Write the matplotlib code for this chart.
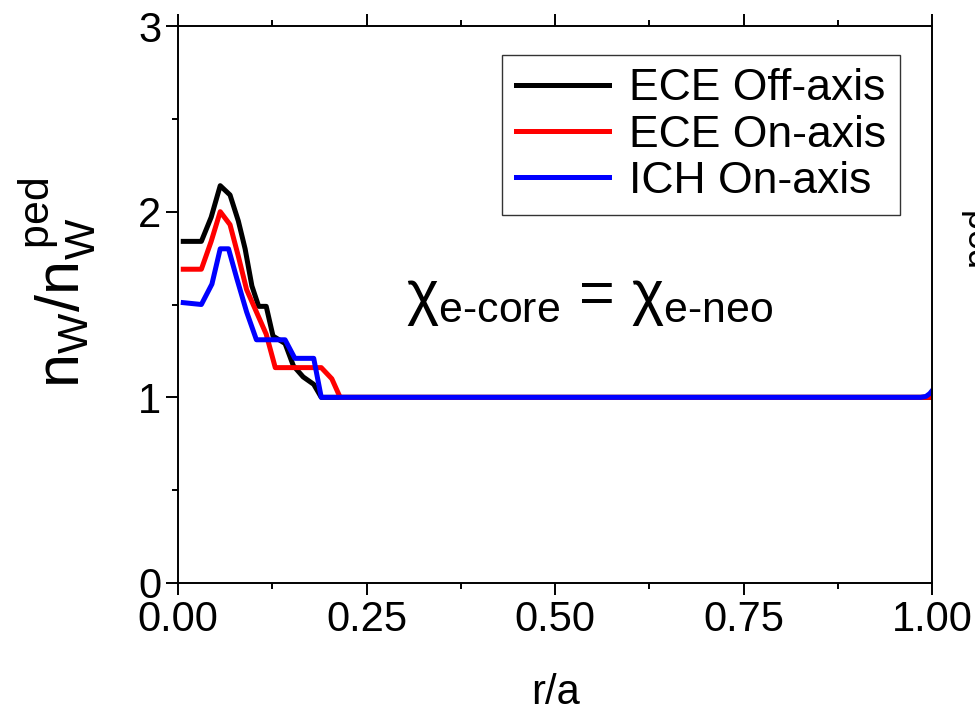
import matplotlib
matplotlib.use('Agg')
import matplotlib.pyplot as plt
from matplotlib.ticker import MultipleLocator

plt.rcParams['font.family'] = ['Liberation Sans', 'DejaVu Sans']
plt.rcParams['mathtext.fontset'] = 'custom'
plt.rcParams['mathtext.rm'] = 'Liberation Sans'
plt.rcParams['mathtext.it'] = 'Liberation Sans:italic'
plt.rcParams['mathtext.bf'] = 'Liberation Sans:bold'

# ECE off-axis
r_off = [0.007, 0.031, 0.044, 0.056, 0.069, 0.080, 0.089, 0.098, 0.107, 0.117,
         0.126, 0.142, 0.153, 0.166, 0.180, 0.190, 1.0]
n_off = [1.84, 1.84, 1.97, 2.14, 2.09, 1.95, 1.80, 1.60, 1.49, 1.49,
         1.33, 1.29, 1.17, 1.11, 1.07, 1.0, 1.0]

# ECE on-axis
r_on = [0.007, 0.031, 0.044, 0.056, 0.069, 0.080, 0.091, 0.104, 0.117, 0.129,
        0.190, 0.204, 0.215, 1.0]
n_on = [1.69, 1.69, 1.84, 2.00, 1.93, 1.76, 1.58, 1.46, 1.34, 1.16,
        1.16, 1.10, 1.0, 1.0]

# ICH on-axis
r_ich = [0.007, 0.031, 0.045, 0.056, 0.067, 0.078, 0.091, 0.104, 0.142, 0.155,
         0.180, 0.190, 0.985, 0.992, 0.997, 1.0]
n_ich = [1.51, 1.50, 1.61, 1.80, 1.80, 1.64, 1.46, 1.31, 1.31, 1.21,
         1.21, 1.0, 1.0, 1.005, 1.02, 1.035]

fig = plt.figure(figsize=(9.75, 7.12), dpi=100)
ax = fig.add_axes([178/975, 1 - 583/712, (932 - 178)/975, (583 - 26)/712])

ax.plot(r_off, n_off, color='black', lw=3.6, label='ECE Off-axis')
ax.plot(r_on, n_on, color='red', lw=3.6, label='ECE On-axis')
ax.plot(r_ich, n_ich, color='blue', lw=3.6, label='ICH On-axis')

ax.set_xlim(0, 1)
ax.set_ylim(0, 3)
ax.set_xticks([0, 0.25, 0.5, 0.75, 1.0])
ax.set_xticklabels(['0.00', '0.25', '0.50', '0.75', '1.00'])
ax.set_yticks([0, 1, 2, 3])
ax.xaxis.set_minor_locator(MultipleLocator(0.125))
ax.yaxis.set_minor_locator(MultipleLocator(0.5))
ax.tick_params(which='both', direction='out', top=True, right=False,
               labelsize=30, width=1.4)
ax.tick_params(which='major', length=8.5)
ax.tick_params(which='minor', length=4.5)
for s in ax.spines.values():
    s.set_linewidth(1.4)

leg = ax.legend(loc='upper right', bbox_to_anchor=(0.957, 0.948), fontsize=32,
                handlelength=2.1, handletextpad=0.45, labelspacing=0.12,
                borderpad=0.3, borderaxespad=0, fancybox=False, framealpha=1)
leg.get_frame().set_edgecolor('#333333')
leg.get_frame().set_linewidth(1.0)

ax.text(590/975, 1 - 300/712,
        r'$\mathrm{\chi}_{\text{e-core}}$ = $\mathrm{\chi}_{\text{e-neo}}$',
        transform=fig.transFigure, ha='center', va='center', fontsize=44)

fig.text(57/975, 1 - 283/712, r'$\mathregular{n_W/n_W^{\ ped}}$', rotation=90,
         ha='center', va='center', fontsize=44)
fig.text(555/975, 1 - 693/712, 'r/a', ha='center', va='center', fontsize=30)
# fragment of neighbouring panel label
fig.text(961/975, 1 - 236/712, 'ped', rotation=90, ha='left', va='center',
         fontsize=26)

fig.savefig('out.png', dpi=100)
